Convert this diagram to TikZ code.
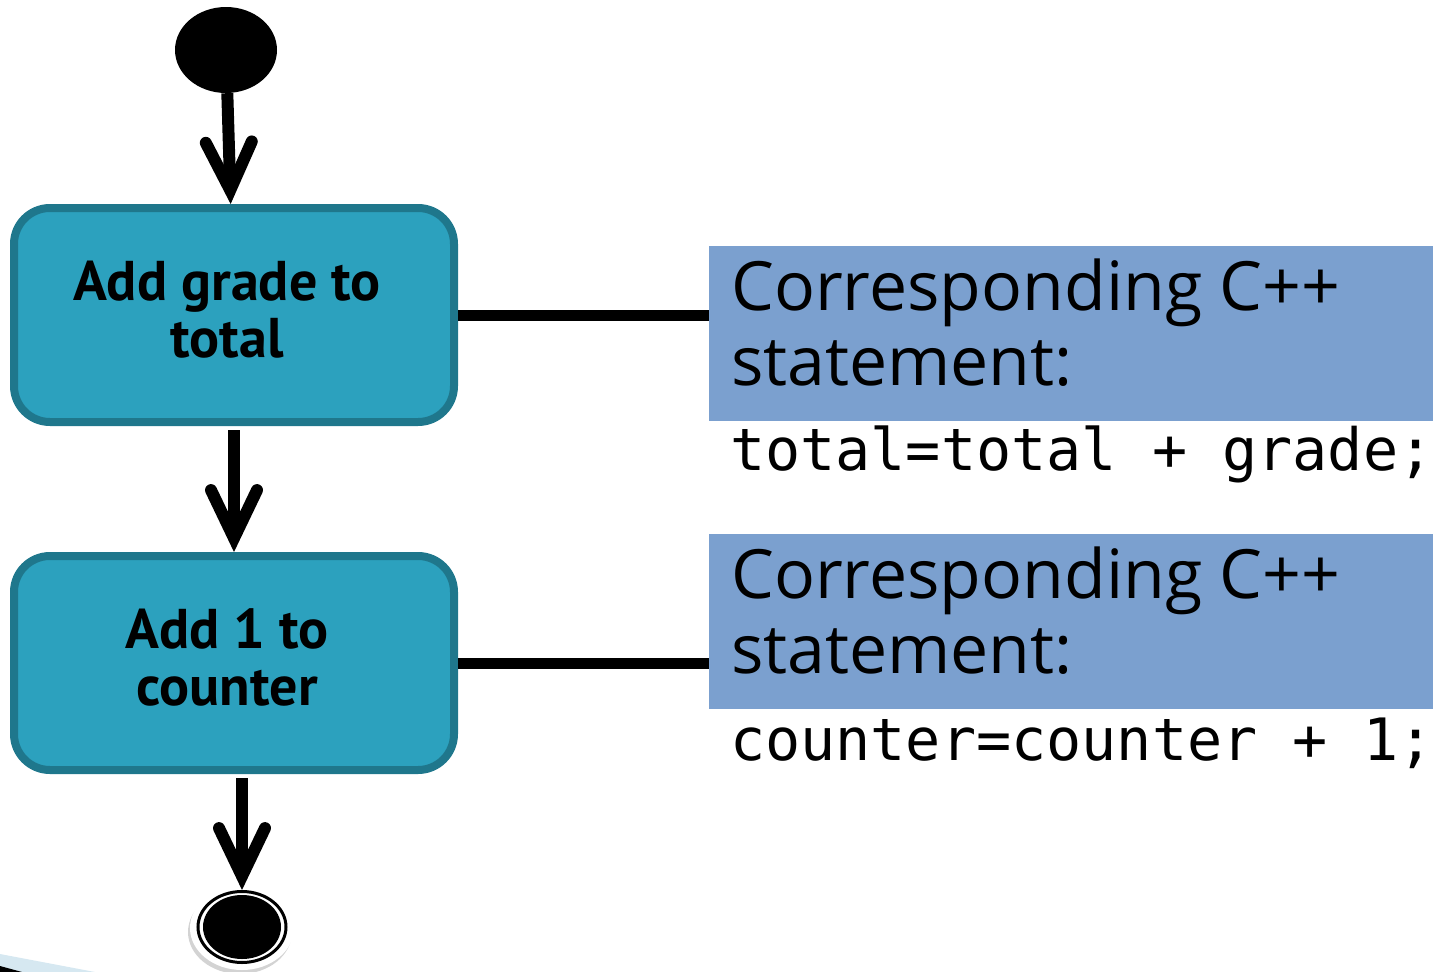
\documentclass[tikz,border=0pt]{standalone}
\usepackage{fontspec}
\usetikzlibrary{arrows.meta,shapes.geometric,shadows}
\newfontfamily\labelfont{PT Sans}
\newfontfamily\notefont{Open Sans}
\newfontfamily\codefont{DejaVu Sans Mono}
\definecolor{actfill}{HTML}{2CA1BE}
\definecolor{actedge}{HTML}{1F778C}
\definecolor{notefill}{HTML}{7BA0CF}
\definecolor{sliver}{HTML}{D6E8F1}
% pad on the right so each centred line sits a little left of the box centre
\newcommand\padr{\kern14pt}
\tikzset{
  flow/.style={line width=12pt, line cap=butt,
    -{Straight Barb[length=48pt,width=46pt,line cap=round]}},
  tie/.style={line width=11pt},
  action/.style={rounded corners=36pt, fill=actfill, draw=actedge,
    line width=8pt, minimum width=440pt, minimum height=214pt,
    align=center, inner sep=0pt,
    font=\labelfont\bfseries\fontsize{56}{57}\selectfont},
  rim/.style={draw=actedge, line width=1.5pt, rounded corners=29pt},
  note/.style={fill=notefill, minimum width=730pt, minimum height=175pt,
    inner sep=0pt, anchor=north west},
  notetext/.style={anchor=north west, align=left, inner sep=0pt,
    font=\notefont\fontsize{68}{75}\selectfont},
  code/.style={anchor=base west, inner sep=0pt,
    font=\codefont\fontsize{58.4}{60}\selectfont},
  initial/.style={ellipse, fill=black, minimum width=102pt,
    minimum height=86pt, inner sep=0pt},
  halo/.style={ellipse, fill=white, minimum width=104pt, minimum height=84pt,
    inner sep=0pt, drop shadow={shadow xshift=-2pt, shadow yshift=-4pt,
    opacity=.35}},
  ring/.style={ellipse, draw=black, fill=white, line width=3pt,
    minimum width=88pt, minimum height=71pt, inner sep=0pt},
  core/.style={ellipse, fill=black, minimum width=78pt,
    minimum height=64pt, inner sep=0pt}
}
\begin{document}
\begin{tikzpicture}[x=1pt,y=-1pt]
\useasboundingbox (0,0) rectangle (1433,972);

% decorative sliver in the lower left corner
\fill[sliver] (0,954) -- (95,972) -- (0,972) -- cycle;
\fill[black] (0,966) -- (22,972) -- (0,972) -- cycle;

% activity nodes
\node[action] (b1) at (234,315)
  {Add grade to\padr\\total\padr\rule[-12pt]{0pt}{0pt}};
\node[action] (b2) at (234,663)
  {Add 1 to\padr\\counter\padr\rule[-12pt]{0pt}{0pt}};
\foreach \b in {b1,b2}
  \draw[rim] ([xshift=6.5pt,yshift=-6.5pt]\b.north west)
    rectangle ([xshift=-6.5pt,yshift=6.5pt]\b.south east);
\node[initial] (start) at (226,50) {};

% final node
\node[halo] (finhalo) at (242,928) {};
\node[ring] (fin) at (242,927) {};
\node[core] (fincore) at (242,927) {};

% notes with the C++ statements
\node[note] (note1) at (709,246) {};
\node[note] (note2) at (709,534) {};
\node[notetext] (note1t) at (731,259) {Corresponding C++\\statement:};
\node[notetext] (note2t) at (731,547) {Corresponding C++\\statement:};
\node[code] (code1) at (730,470) {total=total + grade;};
\node[code] (code2) at (730,760) {counter=counter + 1;};

% control flow
\draw[flow] (start) -- (b1);
\draw[flow, shorten <=4pt] (b1) -- (b2);
\draw[flow, shorten <=4pt] (b2.south -| fin) -- (fin);

% note attachments
\draw[tie] (b1.east) -- (b1.east -| note1.west);
\draw[tie] (b2.east) -- (b2.east -| note2.west);
\end{tikzpicture}
\end{document}
